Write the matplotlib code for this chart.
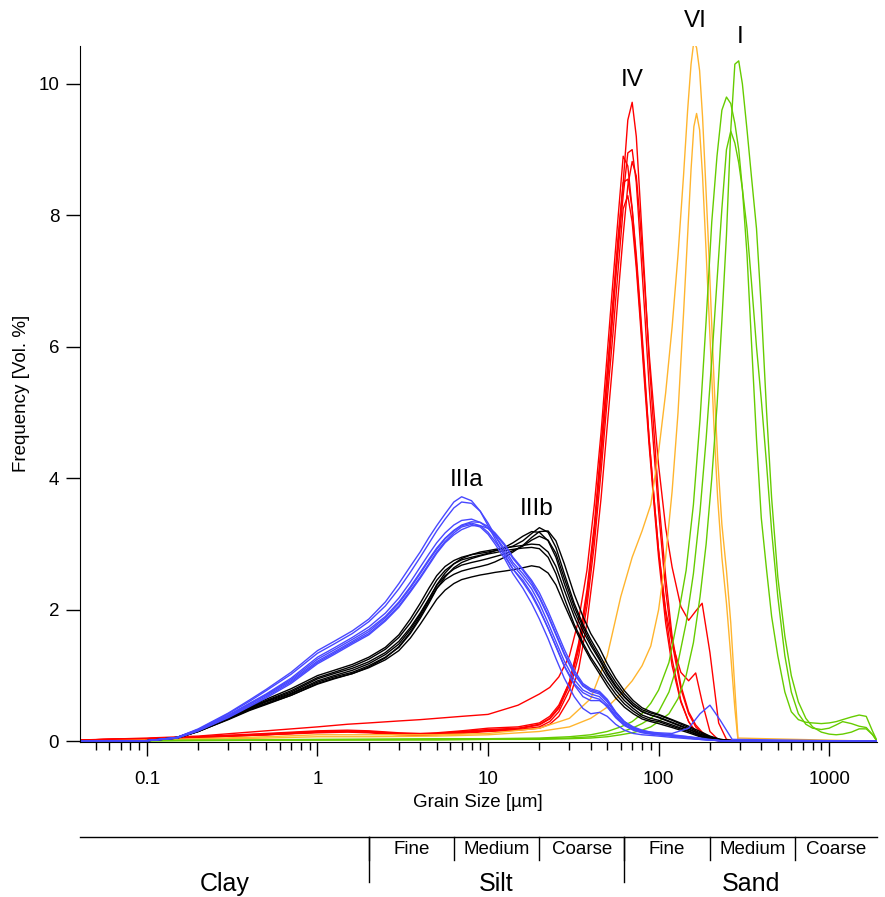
import matplotlib.pyplot as plt
from matplotlib.ticker import LogLocator, NullFormatter

plt.rcParams['font.family'] = ['Liberation Sans', 'DejaVu Sans']

# grain size grids (um)
size_silt = [0.04, 0.1, 0.15, 0.2, 0.3, 0.4, 0.5, 0.7, 1, 1.25,
             1.6, 2, 2.5, 3, 3.5, 4, 4.5, 5, 5.6, 6.3,
             7, 8, 9, 10, 11, 12.5, 14, 16, 18, 20,
             22.5, 25, 28, 32, 36, 40, 45, 50, 56, 63,
             71, 80, 90, 100, 120, 150, 175, 200, 230, 270, 2000]
size_red = [0.04, 0.1, 0.2, 0.5, 1, 1.5, 2, 3, 4, 5,
            7, 10, 15, 20, 23, 26, 30, 34, 38, 42,
            46, 50, 54, 58, 62, 66, 70, 74, 78, 83,
            88, 94, 100, 110, 120, 135, 150, 165, 180, 200,
            225, 250, 300, 2000]
size_orange = [0.04, 0.1, 0.2, 0.5, 1, 2, 5, 10, 20, 30,
               40, 50, 60, 70, 80, 90, 100, 110, 120, 130,
               140, 148, 155, 161, 167, 174, 181, 188, 195, 203,
               212, 222, 235, 250, 265, 280, 292, 2000]
size_green = [0.04, 0.1, 1, 5, 10, 20, 30, 40, 50, 60,
              70, 80, 90, 100, 115, 130, 145, 160, 175, 190,
              205, 220, 235, 250, 265, 280, 295, 310, 330, 350,
              375, 400, 430, 460, 500, 550, 600, 660, 730, 800,
              900, 1000, 1100, 1200, 1350, 1500, 1650, 1800, 1900]

# IIIa (blue)
IIIa = [
    [0, 0.01, 0.06, 0.19, 0.43, 0.63, 0.79, 1.05, 1.38, 1.52,
     1.68, 1.86, 2.12, 2.4, 2.66, 2.88, 3.1, 3.28, 3.46, 3.64,
     3.72, 3.66, 3.5, 3.28, 3.08, 2.82, 2.62, 2.45, 2.25, 2.02,
     1.72, 1.45, 1.15, 0.88, 0.74, 0.68, 0.64, 0.52, 0.36, 0.24,
     0.17, 0.13, 0.11, 0.1, 0.08, 0.05, 0.03, 0.02, 0.01, 0, 0],
    [0, 0.01, 0.06, 0.18, 0.42, 0.61, 0.77, 1.02, 1.34, 1.48,
     1.64, 1.82, 2.06, 2.32, 2.57, 2.8, 3.01, 3.2, 3.38, 3.55,
     3.64, 3.62, 3.5, 3.32, 3.13, 2.88, 2.68, 2.5, 2.32, 2.1,
     1.8, 1.52, 1.22, 0.94, 0.78, 0.72, 0.68, 0.56, 0.39, 0.26,
     0.18, 0.14, 0.12, 0.1, 0.08, 0.05, 0.03, 0.02, 0.01, 0, 0],
    [0, 0.01, 0.06, 0.18, 0.4, 0.58, 0.72, 0.96, 1.28, 1.42,
     1.58, 1.74, 1.95, 2.18, 2.42, 2.65, 2.85, 3.02, 3.17, 3.29,
     3.36, 3.38, 3.33, 3.24, 3.12, 2.93, 2.72, 2.55, 2.38, 2.18,
     1.9, 1.62, 1.32, 1.02, 0.84, 0.76, 0.72, 0.6, 0.42, 0.28,
     0.2, 0.15, 0.13, 0.11, 0.09, 0.06, 0.04, 0.02, 0.01, 0, 0],
    [0, 0.01, 0.05, 0.17, 0.39, 0.57, 0.71, 0.94, 1.25, 1.39,
     1.55, 1.7, 1.9, 2.12, 2.35, 2.57, 2.77, 2.94, 3.09, 3.21,
     3.29, 3.34, 3.33, 3.27, 3.17, 3.0, 2.8, 2.62, 2.45, 2.26,
     1.98, 1.7, 1.4, 1.08, 0.88, 0.8, 0.76, 0.64, 0.45, 0.3,
     0.21, 0.16, 0.14, 0.12, 0.1, 0.07, 0.05, 0.03, 0.01, 0, 0],
    [0, 0.01, 0.05, 0.17, 0.38, 0.56, 0.7, 0.92, 1.22, 1.36,
     1.52, 1.67, 1.88, 2.1, 2.33, 2.55, 2.75, 2.92, 3.08, 3.2,
     3.28, 3.32, 3.28, 3.18, 3.04, 2.84, 2.62, 2.42, 2.22, 2.0,
     1.72, 1.44, 1.14, 0.86, 0.68, 0.62, 0.62, 0.54, 0.38, 0.25,
     0.18, 0.14, 0.12, 0.11, 0.09, 0.07, 0.04, 0.02, 0.01, 0, 0],
    [0, 0.01, 0.05, 0.16, 0.37, 0.54, 0.68, 0.9, 1.2, 1.34,
     1.5, 1.64, 1.85, 2.06, 2.29, 2.5, 2.7, 2.88, 3.04, 3.17,
     3.26, 3.3, 3.26, 3.15, 3.0, 2.78, 2.55, 2.33, 2.1, 1.86,
     1.56, 1.26, 0.96, 0.68, 0.5, 0.42, 0.44, 0.38, 0.26, 0.17,
     0.12, 0.1, 0.09, 0.08, 0.06, 0.04, 0.03, 0.02, 0.01, 0, 0],
    [0, 0.01, 0.05, 0.16, 0.36, 0.53, 0.66, 0.88, 1.18, 1.32,
     1.48, 1.62, 1.83, 2.04, 2.27, 2.48, 2.68, 2.86, 3.02, 3.14,
     3.22, 3.28, 3.28, 3.24, 3.15, 2.98, 2.78, 2.6, 2.42, 2.2,
     1.92, 1.64, 1.34, 1.04, 0.86, 0.78, 0.74, 0.62, 0.44, 0.3,
     0.22, 0.17, 0.14, 0.13, 0.12, 0.2, 0.42, 0.55, 0.32, 0.03, 0],
]

# IIIb (black)
IIIb = [
    [0, 0.01, 0.06, 0.17, 0.38, 0.53, 0.64, 0.8, 1.0, 1.08,
     1.17, 1.28, 1.43, 1.62, 1.86, 2.1, 2.33, 2.52, 2.66, 2.75,
     2.8, 2.84, 2.86, 2.88, 2.9, 2.93, 2.97, 3.05, 3.16, 3.25,
     3.18, 2.95, 2.55, 2.1, 1.78, 1.55, 1.32, 1.1, 0.9, 0.72,
     0.58, 0.48, 0.43, 0.4, 0.32, 0.21, 0.13, 0.07, 0.03, 0.01, 0],
    [0, 0.01, 0.06, 0.17, 0.37, 0.52, 0.62, 0.77, 0.97, 1.05,
     1.14, 1.25, 1.4, 1.58, 1.8, 2.03, 2.25, 2.45, 2.6, 2.7,
     2.76, 2.8, 2.83, 2.86, 2.9, 2.95, 3.02, 3.12, 3.19, 3.18,
     3.05, 2.8, 2.4, 1.98, 1.68, 1.46, 1.24, 1.02, 0.83, 0.67,
     0.54, 0.45, 0.4, 0.36, 0.28, 0.18, 0.11, 0.06, 0.02, 0.01, 0],
    [0, 0.01, 0.06, 0.16, 0.36, 0.51, 0.61, 0.75, 0.95, 1.03,
     1.11, 1.21, 1.35, 1.52, 1.73, 1.95, 2.17, 2.37, 2.52, 2.62,
     2.68, 2.72, 2.75, 2.78, 2.81, 2.85, 2.9, 2.97, 3.06, 3.12,
     3.06, 2.86, 2.48, 2.05, 1.74, 1.5, 1.27, 1.05, 0.85, 0.68,
     0.55, 0.45, 0.4, 0.37, 0.29, 0.19, 0.11, 0.06, 0.02, 0.01, 0],
    [0, 0.01, 0.05, 0.16, 0.35, 0.5, 0.6, 0.73, 0.92, 1.0,
     1.08, 1.18, 1.32, 1.48, 1.7, 1.93, 2.16, 2.38, 2.56, 2.7,
     2.78, 2.84, 2.88, 2.9, 2.92, 2.94, 2.96, 2.98, 3.0, 2.99,
     2.88, 2.66, 2.3, 1.9, 1.6, 1.38, 1.17, 0.97, 0.78, 0.62,
     0.5, 0.4, 0.35, 0.32, 0.25, 0.16, 0.09, 0.05, 0.02, 0, 0],
    [0, 0.01, 0.05, 0.15, 0.34, 0.49, 0.58, 0.72, 0.9, 0.98,
     1.05, 1.15, 1.28, 1.43, 1.64, 1.87, 2.1, 2.32, 2.5, 2.64,
     2.72, 2.78, 2.82, 2.85, 2.87, 2.9, 2.92, 2.94, 2.95, 2.93,
     2.8, 2.55, 2.18, 1.78, 1.5, 1.28, 1.08, 0.9, 0.72, 0.57,
     0.46, 0.37, 0.32, 0.3, 0.23, 0.15, 0.08, 0.04, 0.01, 0, 0],
    [0, 0.01, 0.05, 0.15, 0.34, 0.48, 0.57, 0.7, 0.88, 0.96,
     1.03, 1.12, 1.24, 1.38, 1.57, 1.78, 1.98, 2.16, 2.3, 2.4,
     2.46, 2.5, 2.53, 2.55, 2.57, 2.59, 2.61, 2.64, 2.67, 2.65,
     2.56, 2.38, 2.08, 1.74, 1.46, 1.24, 1.03, 0.84, 0.66, 0.52,
     0.42, 0.34, 0.3, 0.27, 0.21, 0.13, 0.07, 0.03, 0.01, 0, 0],
    [0, 0.01, 0.05, 0.15, 0.33, 0.47, 0.56, 0.7, 0.87, 0.95,
     1.03, 1.13, 1.27, 1.44, 1.66, 1.9, 2.13, 2.33, 2.46, 2.54,
     2.59, 2.63, 2.66, 2.69, 2.73, 2.8, 2.88, 2.98, 3.1, 3.19,
     3.2, 3.05, 2.7, 2.24, 1.9, 1.64, 1.42, 1.18, 0.96, 0.77,
     0.62, 0.51, 0.45, 0.41, 0.33, 0.23, 0.15, 0.08, 0.03, 0.01, 0],
]

# IV (red)
IV = [
    [0.02, 0.04, 0.07, 0.12, 0.16, 0.17, 0.16, 0.13, 0.12, 0.13,
     0.16, 0.2, 0.22, 0.28, 0.38, 0.55, 0.9, 1.45, 2.2, 3.2,
     4.4, 5.6, 6.7, 7.7, 8.5, 9.45, 9.72, 9.2, 8.2, 7.0,
     5.8, 4.7, 3.7, 2.5, 1.6, 0.85, 0.45, 0.25, 0.14, 0.06,
     0.02, 0.01, 0, 0],
    [0.02, 0.04, 0.07, 0.11, 0.15, 0.16, 0.15, 0.12, 0.11, 0.12,
     0.15, 0.18, 0.2, 0.26, 0.35, 0.52, 0.9, 1.5, 2.3, 3.3,
     4.5, 5.6, 6.6, 7.5, 8.3, 8.95, 9.0, 8.5, 7.6, 6.5,
     5.4, 4.4, 3.5, 2.3, 1.5, 0.8, 0.42, 0.22, 0.12, 0.05,
     0.02, 0, 0, 0],
    [0.02, 0.05, 0.08, 0.16, 0.22, 0.26, 0.28, 0.31, 0.33, 0.35,
     0.38, 0.41, 0.55, 0.72, 0.82, 0.98, 1.3, 1.85, 2.6, 3.6,
     4.7, 5.9, 7.0, 8.0, 8.9, 8.75, 8.1, 7.3, 6.5, 5.5,
     4.6, 3.7, 2.9, 1.95, 1.25, 0.62, 0.3, 0.14, 0.07, 0.03,
     0.01, 0, 0, 0],
    [0.02, 0.04, 0.06, 0.1, 0.13, 0.14, 0.13, 0.1, 0.09, 0.1,
     0.12, 0.15, 0.17, 0.2, 0.26, 0.38, 0.65, 1.1, 1.8, 2.7,
     3.7, 4.8, 5.8, 6.8, 7.7, 8.45, 8.82, 8.6, 7.9, 6.9,
     5.9, 5.0, 4.2, 3.25, 2.65, 2.05, 1.84, 1.98, 2.1, 1.35,
     0.28, 0.03, 0, 0],
    [0.02, 0.04, 0.06, 0.1, 0.14, 0.15, 0.14, 0.11, 0.1, 0.11,
     0.14, 0.17, 0.19, 0.25, 0.34, 0.5, 0.85, 1.4, 2.2, 3.2,
     4.3, 5.4, 6.5, 7.6, 8.5, 8.55, 8.1, 7.4, 6.6, 5.6,
     4.6, 3.7, 2.9, 2.0, 1.5, 1.05, 0.92, 1.04, 0.6, 0.15,
     0.02, 0, 0, 0],
    [0.02, 0.04, 0.06, 0.1, 0.14, 0.15, 0.14, 0.11, 0.1, 0.11,
     0.13, 0.16, 0.18, 0.22, 0.3, 0.45, 0.78, 1.3, 2.05, 3.0,
     4.1, 5.2, 6.2, 7.2, 8.1, 8.3, 7.9, 7.2, 6.4, 5.4,
     4.5, 3.6, 2.8, 1.8, 1.15, 0.6, 0.3, 0.15, 0.07, 0.03,
     0.01, 0, 0, 0],
]

# VI (orange)
VI = [
    [0, 0.02, 0.04, 0.07, 0.1, 0.1, 0.1, 0.12, 0.2, 0.35,
     0.65, 1.3, 2.2, 2.8, 3.2, 3.6, 4.4, 5.3, 6.3, 7.4,
     8.6, 9.6, 10.3, 10.65, 10.55, 10.2, 9.5, 8.6, 7.7, 6.6,
     5.4, 4.3, 3.3, 2.6, 1.8, 0.8, 0.05, 0],
    [0, 0.01, 0.03, 0.05, 0.07, 0.07, 0.08, 0.1, 0.15, 0.22,
     0.35, 0.52, 0.72, 0.92, 1.15, 1.45, 2.0, 2.8, 3.8, 5.0,
     6.5, 7.7, 8.7, 9.35, 9.55, 9.3, 8.6, 7.7, 6.8, 5.8,
     4.7, 3.7, 2.8, 2.1, 1.3, 0.5, 0.02, 0],
]

# I (green)
I_sand = [
    [0, 0.01, 0.03, 0.04, 0.04, 0.05, 0.07, 0.1, 0.15, 0.22,
     0.3, 0.42, 0.58, 0.78, 1.2, 1.9, 2.6, 3.6, 4.9, 6.4,
     7.9, 8.9, 9.6, 9.8, 9.7, 9.4, 9.0, 8.4, 7.4, 6.1,
     4.6, 3.4, 2.6, 1.9, 1.3, 0.75, 0.45, 0.33, 0.29, 0.28,
     0.27, 0.28, 0.3, 0.33, 0.37, 0.4, 0.38, 0.15, 0.02],
    [0, 0.01, 0.02, 0.03, 0.03, 0.04, 0.05, 0.07, 0.1, 0.14,
     0.2, 0.27, 0.35, 0.45, 0.75, 1.2, 1.8, 2.55, 3.5, 4.6,
     5.8, 7.0, 8.1, 9.0, 9.28, 9.1, 8.8, 8.4, 7.8, 7.0,
     6.0, 5.2, 4.2, 3.2, 2.2, 1.3, 0.75, 0.42, 0.26, 0.2,
     0.18, 0.2, 0.25, 0.3, 0.27, 0.23, 0.21, 0.1, 0.01],
    [0, 0.01, 0.02, 0.02, 0.03, 0.03, 0.04, 0.05, 0.07, 0.1,
     0.13, 0.17, 0.22, 0.3, 0.42, 0.65, 1.0, 1.5, 2.2, 3.0,
     4.0, 5.1, 6.4, 7.7, 9.3, 10.3, 10.35, 10.0, 9.3, 8.6,
     7.8, 6.6, 5.0, 3.7, 2.5, 1.6, 1.0, 0.6, 0.35, 0.22,
     0.14, 0.11, 0.1, 0.11, 0.14, 0.19, 0.19, 0.1, 0.01],
]

# group labels: text, x, y
group_labels = ["IIIa", "IIIb", "IV", "VI", "I"]
label_x = [7.5, 19.3, 69.6, 165, 299]
label_y = [3.98, 3.53, 10.06, 10.96, 10.71]

# grain size classes
class_names = ["Clay", "Silt", "Sand"]
class_edges = [2, 63]
sub_names = ["Fine", "Medium", "Coarse", "Fine", "Medium", "Coarse"]
sub_edges = [2, 6.3, 20, 63, 200, 630]

xmin, xmax = 0.0405, 1900

fig = plt.figure(figsize=(8.85, 8.97), dpi=100)
ax = fig.add_axes([0.0904, 0.1728, 0.9002, 0.7762])

for y in IV:
    ax.plot(size_red, y, color="#FF0000", lw=1)
for y in VI:
    ax.plot(size_orange, y, color="#FFB52E", lw=1)
for y in I_sand:
    ax.plot(size_green, y, color="#66CC00", lw=1)
for y in IIIb:
    ax.plot(size_silt, y, color="black", lw=1)
for y in IIIa:
    ax.plot(size_silt, y, color="#4848FF", lw=1)

for t, x, y in zip(group_labels, label_x, label_y):
    ax.text(x, y, t, ha="center", va="center", fontsize=17.5, clip_on=False)

ax.set_xscale("log")
ax.set_xlim(xmin, xmax)
ax.set_ylim(-0.01, 10.58)
ax.set_xticks([0.1, 1, 10, 100, 1000])
ax.set_xticklabels(["0.1", "1", "10", "100", "1000"])
ax.xaxis.set_minor_locator(LogLocator(base=10, subs=range(2, 10), numticks=20))
ax.xaxis.set_minor_formatter(NullFormatter())
ax.set_yticks([0, 2, 4, 6, 8, 10])
ax.spines["top"].set_visible(False)
ax.spines["right"].set_visible(False)
ax.tick_params(which="major", length=10, width=1, labelsize=13.5, pad=5)
ax.tick_params(which="minor", length=6, width=1)
ax.tick_params(axis="x", which="major", pad=11)
ax.set_xlabel("Grain Size [µm]", fontsize=13.5, labelpad=4)
ax.set_ylabel("Frequency [Vol. %]", fontsize=13.5, labelpad=6)

# grain size class bar below the plot
bar = fig.add_axes([0.0904, 0, 0.9002, 75 / 897])
bar.set_xscale("log")
bar.set_xlim(xmin, xmax)
bar.set_ylim(0, 1)
bar.axis("off")
bar.plot([xmin, xmax], [0.796, 0.796], color="black", lw=1, clip_on=False)
for e in class_edges:
    bar.plot([e, e], [0.796, 0.2], color="black", lw=1)
for e in sub_edges:
    bar.plot([e, e], [0.796, 0.49], color="black", lw=1)

big_edges = [xmin] + class_edges + [xmax]
for i, name in enumerate(class_names):
    xc = (big_edges[i] * big_edges[i + 1]) ** 0.5
    bar.text(xc, 0.17, name, ha="center", va="center", fontsize=18)

small_edges = sub_edges + [xmax]
for i, name in enumerate(sub_names):
    xc = (small_edges[i] * small_edges[i + 1]) ** 0.5
    bar.text(xc, 0.64, name, ha="center", va="center", fontsize=13.5)

plt.savefig("out.png", dpi=100)
